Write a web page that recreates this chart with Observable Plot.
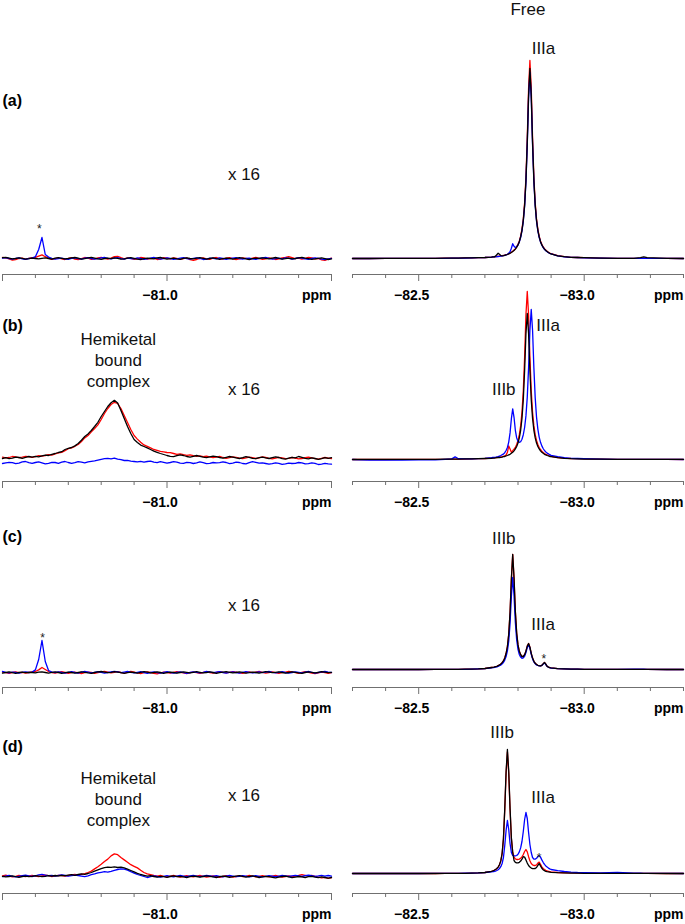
<!DOCTYPE html>
<html><head><meta charset="utf-8">
<script src="https://cdn.jsdelivr.net/npm/d3@7"></script>
<script src="https://cdn.jsdelivr.net/npm/@observablehq/plot@0.6"></script>
<style>
body{margin:0;background:#fff;}
#chart{position:relative;width:685px;height:924px;background:#fff;overflow:hidden;}
#chart svg{position:absolute;overflow:visible;}
</style></head><body><div id="chart"></div>
<script>
// ---------- x grids (ppm) ----------
const ppmL = [
-80.750,-80.755,-80.760,-80.765,-80.770,-80.775,-80.780,-80.785,-80.790,-80.795,
-80.800,-80.805,-80.810,-80.815,-80.820,-80.825,-80.830,-80.835,-80.840,-80.845,
-80.850,-80.855,-80.860,-80.865,-80.870,-80.875,-80.880,-80.885,-80.890,-80.895,
-80.900,-80.905,-80.910,-80.915,-80.920,-80.925,-80.930,-80.935,-80.940,-80.945,
-80.950,-80.955,-80.960,-80.965,-80.970,-80.975,-80.980,-80.985,-80.990,-80.995,
-81.000,-81.005,-81.010,-81.015,-81.020,-81.025,-81.030,-81.035,-81.040,-81.045,
-81.050,-81.055,-81.060,-81.065,-81.070,-81.075,-81.080,-81.085,-81.090,-81.095,
-81.100,-81.105,-81.110,-81.115,-81.120,-81.125,-81.130,-81.135,-81.140,-81.145,
-81.150,-81.155,-81.160,-81.165,-81.170,-81.175,-81.180,-81.185,-81.190,-81.195,
-81.200,-81.205,-81.210,-81.215,-81.220,-81.225,-81.230,-81.235,-81.240,-81.245,
-81.250];
const ppmR = [
-82.30,-82.35,-82.40,-82.45,-82.50,-82.55,-82.58,-82.60,-82.61,-82.62,-82.64,-82.66,-82.68,-82.70,
-82.720,-82.724,-82.728,-82.732,-82.736,-82.740,-82.744,-82.748,-82.752,-82.756,
-82.760,-82.764,-82.768,-82.772,-82.776,-82.780,-82.784,-82.788,-82.792,-82.796,
-82.800,-82.804,-82.808,-82.812,-82.816,-82.820,-82.824,-82.828,-82.832,-82.836,
-82.840,-82.844,-82.848,-82.852,-82.856,-82.860,-82.864,-82.868,-82.872,-82.876,
-82.880,-82.884,-82.888,-82.892,-82.896,-82.900,
-82.92,-82.94,-82.96,-82.98,-83.00,-83.05,-83.10,-83.15,-83.17,-83.18,-83.19,-83.25,-83.30];

// ---------- ticks ----------
const minorTicksL = [-80.80,-80.85,-80.90,-80.95,-81.05,-81.10,-81.15,-81.20];
const majorTicksL = [-80.75,-81.0,-81.25];
const labelTicksL = [-81.0];
const minorTicksR = [-82.3,-82.4,-82.6,-82.7,-82.8,-82.9,-83.1,-83.2,-83.3];
const majorTicksR = [-82.5,-83.0];
const labelTicksR = [-82.5,-83.0];

// ---------- left panels (x 16), row a ----------
const redAL = [
0.5,0.3,-0.2,-0.8,-0.6,0.0,0.2,-0.3,0.1,0.4,
0.6,1.2,1.8,0.9,0.2,-0.4,-0.1,0.3,-0.2,-0.5,
0.1,0.4,-0.3,-0.6,0.0,0.5,0.2,-0.4,-0.2,0.3,
0.6,0.1,-0.3,0.2,0.9,1.1,0.4,-0.2,0.3,0.1,
-0.4,-0.2,0.5,0.3,-0.3,-0.1,0.2,-0.5,-0.3,0.4,
0.2,-0.2,0.3,0.1,-0.4,0.0,0.3,-0.6,-0.9,-0.5,
0.1,0.3,-0.2,-0.4,0.2,0.5,0.0,-0.3,0.2,0.4,
-0.1,-0.5,-0.2,0.3,0.1,-0.3,0.2,0.6,0.1,-0.4,
-0.2,0.3,0.0,-0.5,-0.2,0.3,0.5,0.9,0.4,-0.1,
0.2,-0.3,0.1,0.6,0.3,-0.2,0.0,-0.7,-0.9,-0.3,
0.2];
const blueAL = [
0.2,0.4,0.0,-0.3,0.1,0.3,-0.2,-0.4,0.0,0.2,
0.9,4.5,10.5,2.0,0.7,0.1,-0.3,-0.1,0.2,-0.2,
-0.4,0.1,0.3,-0.1,-0.3,0.2,0.4,0.0,-0.3,-0.1,
0.3,0.5,0.1,-0.2,0.2,0.4,-0.1,-0.3,0.2,0.0,
-0.2,0.3,0.1,-0.4,-0.2,0.2,0.5,0.1,-0.3,-0.1,
0.3,0.0,-0.4,-0.2,0.2,0.4,-0.1,-0.3,0.1,0.3,
0.0,-0.5,-0.3,0.2,0.1,-0.2,0.3,0.0,-0.4,-0.1,
0.2,0.4,-0.1,-0.3,0.1,0.2,-0.2,-0.4,0.1,0.3,
0.5,0.1,-0.3,-0.1,0.2,-0.2,0.3,0.1,-0.3,0.0,
0.4,0.2,-0.2,-0.4,0.0,0.3,0.1,-0.3,-0.5,-0.2,
0.1];
const blackAL = [
0.4,0.6,0.2,-0.2,0.0,0.3,0.1,-0.3,-0.1,0.2,
0.0,-0.2,0.1,0.3,0.0,-0.3,0.2,0.4,0.1,-0.2,
0.0,0.3,0.5,0.2,-0.3,-0.1,0.3,0.6,0.2,-0.2,
-0.4,0.0,0.2,-0.1,0.3,0.1,-0.3,-0.2,0.2,0.4,
0.1,-0.3,-0.5,-0.1,0.2,0.0,-0.2,0.3,0.5,0.1,
-0.3,-0.1,0.2,-0.2,-0.4,0.1,0.3,0.0,-0.2,0.2,
0.4,0.1,-0.3,0.0,0.3,-0.1,-0.4,-0.1,0.2,0.0,
-0.3,0.1,0.4,0.2,-0.2,-0.5,-0.1,0.2,0.0,0.3,
0.1,-0.2,0.2,0.5,0.1,-0.3,-0.1,0.2,-0.2,0.0,
0.3,0.6,0.2,-0.1,-0.4,-0.2,0.1,0.3,-0.1,-0.5,
-0.2];

// ---------- left panels, row b (hemiketal bound complex) ----------
const redBL = [
1.2,0.8,1.0,1.5,1.3,0.9,1.2,1.6,1.4,1.1,
1.4,1.9,1.7,2.0,2.4,2.2,2.8,3.3,3.6,4.4,
5.4,5.8,6.6,7.5,9.0,10.8,12.0,13.8,15.5,17.3,
20.0,23.0,25.5,27.5,28.6,28.0,25.5,22.0,18.5,15.0,
12.0,10.2,8.6,7.3,6.6,5.8,5.0,4.6,4.1,3.8,
3.5,3.4,3.0,2.6,2.8,2.4,2.1,2.3,1.9,1.6,
1.8,1.4,1.7,1.3,0.9,1.2,1.6,1.0,0.6,0.9,
1.3,1.1,0.7,0.4,0.8,1.2,0.9,0.5,0.8,1.3,
1.0,0.6,0.3,0.7,1.1,0.8,0.4,0.6,1.0,0.7,
0.3,0.5,0.9,1.2,0.8,0.4,0.2,0.6,1.0,0.7,
0.4];
const blueBL = [
-2.0,-1.7,-1.4,-1.6,-2.1,-1.8,-1.2,-1.0,-1.6,-1.9,
-1.5,-1.2,-1.7,-2.2,-1.9,-1.4,-1.5,-1.9,-1.3,-1.0,
-1.5,-1.9,-1.6,-1.1,-1.3,-1.7,-1.2,-0.9,-0.7,-0.3,
0.1,0.4,0.6,0.3,0.7,0.2,-0.1,-0.5,-0.4,-0.8,
-1.0,-1.2,-0.9,-1.3,-1.0,-0.8,-1.3,-1.6,-1.1,-1.4,
-1.8,-1.5,-1.1,-1.3,-1.8,-1.9,-1.4,-1.6,-2.0,-1.7,
-1.2,-1.6,-2.1,-1.9,-1.5,-1.7,-1.6,-1.2,-1.5,-2.1,
-1.8,-1.3,-1.5,-2.0,-2.2,-1.6,-1.1,-1.4,-1.8,-1.7,
-2.0,-2.3,-2.1,-1.7,-1.9,-2.4,-2.2,-1.8,-2.0,-1.9,
-1.5,-1.7,-2.2,-2.1,-1.7,-1.9,-2.5,-2.3,-1.9,-2.2,
-2.3];
const blackBL = [
0.5,0.9,0.4,0.7,1.2,1.0,0.6,1.1,1.5,1.2,
1.6,1.3,1.8,2.2,2.0,2.6,3.0,3.5,3.9,5.0,
5.6,6.0,6.8,8.0,9.6,11.5,12.8,14.5,16.5,18.6,
21.5,24.0,26.5,28.4,29.6,28.2,24.5,20.5,16.5,13.0,
10.0,8.5,7.2,6.5,5.8,5.0,4.2,3.6,3.0,2.5,
2.0,1.6,1.4,1.9,2.3,2.0,1.5,1.2,1.6,2.0,
1.6,1.2,0.9,1.3,1.7,1.4,1.0,0.7,1.1,1.5,
1.2,0.8,0.5,0.9,1.4,1.1,0.6,0.4,0.9,1.2,
0.8,0.5,0.9,1.3,1.0,0.4,0.2,0.7,1.1,0.8,
1.5,1.1,0.6,0.3,0.8,0.5,0.1,0.4,0.9,0.6,
0.9];

// ---------- left panels, row c ----------
const redCL = [
-1.3,-1.6,-1.9,-1.5,-1.2,-1.6,-1.4,-1.8,-1.5,-1.2,
-1.0,-0.2,1.0,0.0,-1.0,-1.5,-1.8,-1.4,-1.1,-1.5,
-1.9,-1.6,-1.3,-1.7,-2.0,-1.6,-1.3,-1.5,-1.9,-1.6,
-1.2,-0.9,-1.3,-1.7,-1.4,-1.1,-1.5,-1.8,-1.4,-1.0,
-1.3,-1.7,-2.0,-1.6,-1.2,-1.5,-1.9,-2.2,-1.7,-1.3,
-1.5,-1.8,-1.4,-1.1,-1.4,-1.7,-2.0,-1.6,-1.3,-1.6,
-1.9,-1.5,-1.2,-1.5,-1.8,-1.5,-1.1,-1.4,-1.7,-1.4,
-1.1,-1.3,-1.7,-1.9,-1.5,-1.2,-1.6,-1.3,-1.0,-1.4,
-1.8,-1.5,-1.2,-1.6,-1.9,-1.6,-1.3,-0.9,-1.2,-1.6,
-1.9,-1.5,-1.1,-1.4,-1.8,-2.1,-1.7,-1.3,-1.6,-1.9,
-1.6];
const blueCL = [
-1.0,-1.4,-1.7,-1.3,-1.5,-1.8,-1.4,-1.2,-1.5,-1.3,
-0.2,5.0,14.5,4.0,-0.5,-1.3,-1.6,-1.2,-1.5,-1.8,
-1.4,-1.1,-1.5,-1.8,-1.3,-1.0,-1.3,-1.7,-1.4,-1.1,
-1.4,-1.8,-1.5,-1.2,-0.9,-1.2,-1.6,-1.3,-1.0,-1.4,
-1.7,-1.4,-1.1,-1.5,-1.9,-1.5,-1.2,-1.6,-1.8,-1.4,
-1.1,-1.5,-1.8,-1.5,-1.2,-1.6,-1.9,-1.5,-1.2,-1.4,
-1.7,-1.4,-1.0,-1.3,-1.6,-1.3,-1.1,-1.5,-1.8,-1.4,
-1.2,-1.5,-1.8,-1.4,-1.1,-1.4,-1.7,-1.5,-1.2,-1.6,
-1.3,-1.0,-1.4,-1.7,-1.4,-1.1,-1.5,-1.8,-1.5,-1.2,
-1.4,-1.7,-1.3,-1.0,-1.4,-1.8,-1.5,-1.2,-1.0,-1.3,
-1.5];
const blackCL = [
-1.8,-1.5,-1.2,-1.6,-1.9,-1.5,-1.3,-1.6,-1.4,-1.5,
-1.7,-1.3,-1.2,-1.5,-1.8,-1.4,-1.2,-1.5,-1.9,-1.6,
-1.3,-1.5,-1.8,-1.5,-1.2,-1.4,-1.7,-1.9,-1.5,-1.2,
-1.0,-1.3,-1.6,-1.4,-1.1,-1.3,-1.6,-1.9,-1.6,-1.3,
-1.5,-1.8,-1.4,-1.1,-1.3,-1.7,-1.5,-1.2,-1.5,-1.9,
-1.6,-1.3,-1.5,-1.8,-1.5,-1.2,-1.4,-1.7,-1.4,-1.1,
-1.4,-1.7,-1.5,-1.2,-1.5,-1.9,-1.6,-1.3,-1.1,-1.4,
-1.7,-1.5,-1.2,-1.4,-1.8,-1.6,-1.3,-1.5,-1.8,-1.4,
-1.1,-1.3,-1.6,-1.4,-1.2,-1.5,-1.8,-1.5,-1.2,-1.4,
-1.7,-1.9,-1.5,-1.2,-1.4,-1.7,-1.4,-1.1,-1.3,-1.6,
-1.4];

// ---------- left panels, row d (hemiketal bound complex) ----------
const redDL = [
-1.2,-0.8,-1.3,-1.7,-1.4,-1.0,-1.3,-1.6,-1.2,-0.9,
-1.3,-1.6,-1.2,-0.8,-1.1,-1.5,-1.2,-0.9,-1.0,-1.3,
-1.0,-0.7,-0.5,-0.8,-0.4,-0.1,0.5,1.2,2.3,3.4,
4.6,6.0,7.2,8.8,9.8,9.4,8.0,6.8,5.6,4.4,
3.6,2.8,1.6,0.5,-0.2,-0.6,-1.0,-1.3,-1.0,-1.4,
-1.7,-1.3,-1.0,-1.4,-1.8,-1.5,-1.1,-1.4,-1.7,-1.3,
-1.0,-1.4,-1.8,-1.5,-1.2,-1.5,-1.9,-1.5,-1.1,-1.4,
-1.8,-1.5,-1.2,-1.6,-1.4,-1.0,-1.3,-1.7,-1.4,-1.1,
-1.4,-1.7,-1.3,-1.0,-1.4,-1.8,-1.5,-1.2,-1.6,-1.3,
-1.0,-0.6,-0.9,-1.3,-1.0,-1.4,-1.8,-2.2,-1.9,-2.4,
-2.1];
const blueDL = [
-1.6,-1.3,-1.0,-1.4,-1.7,-1.4,-1.1,-0.8,-1.2,-1.5,
-1.2,-0.7,-0.4,-0.8,-1.1,-0.9,-1.3,-1.0,-0.7,-1.0,
-1.3,-1.1,-0.8,-1.0,-1.3,-1.6,-1.2,-0.6,-0.2,0.3,
0.6,0.9,0.7,1.1,1.6,2.0,2.3,2.2,1.7,0.9,
0.2,-0.5,-1.0,-1.5,-2.0,-1.6,-1.2,-1.5,-1.8,-1.4,
-1.1,-1.4,-1.7,-1.3,-1.0,-1.3,-1.6,-1.2,-0.9,-1.3,
-1.6,-1.3,-1.0,-1.2,-1.5,-1.1,-1.4,-1.7,-1.3,-1.0,
-1.3,-1.6,-1.4,-1.1,-1.3,-1.7,-1.4,-1.1,-1.4,-1.7,
-1.4,-1.1,-1.3,-1.6,-1.3,-1.0,-1.2,-1.5,-1.2,-0.9,
-1.2,-1.5,-1.1,-0.8,-1.1,-1.4,-1.2,-0.9,-1.3,-1.0,
-1.3];
const blackDL = [
-1.4,-1.7,-1.5,-1.2,-1.6,-1.9,-1.5,-1.3,-1.6,-1.4,
-1.1,-1.3,-1.6,-1.4,-1.1,-1.3,-1.0,-1.2,-0.9,-1.1,
-0.8,-0.6,-0.9,-0.5,-0.2,-0.4,0.0,0.5,1.2,1.8,
2.4,2.9,3.2,3.1,3.3,3.0,3.2,2.8,2.2,1.5,
0.8,0.1,-0.5,-0.9,-1.3,-1.1,-1.5,-1.8,-1.4,-1.6,
-1.9,-1.5,-1.2,-1.6,-1.4,-1.7,-2.0,-1.6,-1.3,-1.5,
-1.8,-1.5,-1.2,-1.4,-1.7,-2.0,-1.6,-1.3,-1.5,-1.9,
-1.6,-1.3,-1.1,-1.4,-1.8,-1.5,-1.2,-1.6,-2.0,-1.7,
-1.4,-1.6,-1.9,-2.2,-1.8,-1.5,-1.3,-1.7,-2.1,-1.8,
-1.5,-1.7,-2.0,-1.6,-1.4,-1.8,-2.1,-1.7,-2.0,-2.3,
-2.0];

// ---------- right panels (free ligand, IIIa / IIIb) ----------
const redAR = [
0,0,0.1,0.1,0.1,0.1,0.2,0.2,0.2,0.2,0.3,0.3,0.4,0.5,
0.7,0.8,0.8,0.9,1.0,1.1,1.2,1.3,1.4,1.5,1.7,1.9,2.1,2.4,2.7,3.1,3.6,4.2,4.9,5.8,
7.1,8.8,11.2,14.7,19.8,27.8,40.6,60.4,85.3,99,85.3,60.4,40.6,27.8,19.8,14.7,11.2,8.8,7.1,5.8,
4.9,4.2,3.6,3.1,2.7,2.4,
1.4,0.9,0.6,0.5,0.4,0.2,0.1,0.1,0.1,0.1,0.1,0.1,0];
const blueAR = [
0,0,0.1,0.1,0.1,0.1,0.1,0.2,0.2,0.2,0.2,0.3,0.4,0.5,
0.7,0.8,0.8,0.8,0.9,1.0,1.1,1.2,1.3,1.4,1.6,1.8,2.0,2.7,3.4,5.1,7.4,6.1,5.5,5.9,
6.7,8.3,10.5,13.8,18.6,26.1,38.2,56.8,80.2,93,80.2,56.8,38.2,26.1,18.6,13.8,10.5,8.3,6.7,5.5,
4.6,3.9,3.4,2.9,2.5,2.3,
1.3,0.8,0.6,0.5,0.3,0.2,0.1,0.1,0.1,0.2,0.1,0.1,0];
const blackAR = [
0,0,0.1,0.1,0.1,0.1,0.2,0.2,0.2,0.2,0.3,0.3,0.4,0.5,
0.7,0.8,0.8,1.2,1.9,2.6,2.1,1.5,1.3,1.4,1.6,1.8,2.0,2.3,2.6,3.0,3.5,4.0,4.7,5.6,
6.8,8.4,10.8,14.1,19.0,26.7,39.0,58.0,81.9,95,81.9,58.0,39.0,26.7,19.0,14.1,10.8,8.4,6.8,5.6,
4.7,4.0,3.5,3.0,2.6,2.3,
1.3,0.9,0.6,0.5,0.4,0.2,0.1,0.1,0.4,0.8,0.4,0.1,0];

const redBR = [
0,0,0,0.1,0.1,0.1,0.1,0.2,0.2,0.2,0.2,0.3,0.4,0.5,
0.7,0.8,0.8,0.9,1.0,1.1,1.2,1.3,1.4,1.6,1.8,2.2,3.6,6.8,5.2,3.6,4.4,5.2,6.0,7.5,
9.5,12.4,16.8,23.6,34.4,51.2,72.4,84,72.4,51.2,34.4,23.6,16.8,12.4,9.5,7.5,6.0,5.0,4.1,3.5,
3.0,2.6,2.3,2.0,1.8,1.6,
1.0,0.7,0.5,0.4,0.3,0.2,0.1,0.1,0.1,0.1,0.1,0.1,0];
const blueBR = [
0,-0.3,-0.2,-0.3,-0.2,-0.2,0.1,0.3,1.3,0.4,0.3,0.3,0.4,0.6,
0.9,1.0,1.1,1.1,1.3,1.4,1.7,2.0,2.4,2.7,3.4,4.5,6.0,8.7,13.3,20.4,25.3,21.1,14.6,10.8,
9.0,8.6,8.9,10.1,12.4,16.0,21.8,31.2,46.0,64.7,75.0,64.6,45.8,30.8,21.2,15.2,11.2,8.6,6.8,5.5,
4.5,3.8,3.2,2.8,2.4,2.1,
1.4,0.9,0.6,0.5,0.4,0.2,0.1,0.1,0.1,0.1,0.1,0.1,0];
const blackBR = [
0,0.1,0.1,0.1,0.1,0.1,0.2,0.2,0.2,0.2,0.3,0.3,0.4,0.5,
0.6,0.7,0.7,0.8,0.9,1.0,1.0,1.1,1.2,1.4,1.5,1.8,2.0,2.3,2.6,3.1,3.6,4.3,5.3,6.5,
8.2,10.8,14.6,20.5,29.9,44.5,62.9,73,62.9,44.5,29.9,20.5,14.6,10.8,8.2,6.5,5.3,4.3,3.6,3.1,
2.6,2.3,2.0,1.8,1.5,1.4,
0.9,0.6,0.4,0.3,0.2,0.2,0.1,0.1,0.1,0.1,0.1,0.1,0.1];

const redCR = [
0,0,0,0,0,0.1,0.1,0.1,0.1,0.1,0.2,0.2,0.3,0.5,
1.0,1.1,1.2,1.4,1.6,1.9,2.3,2.8,3.4,4.3,5.8,8.0,11.5,17.6,28.5,45.4,57.5,45.8,29.0,18.2,
12.3,9.1,7.4,6.5,6.5,7.4,9.2,11.7,13.0,11.2,8.1,5.7,4.1,3.1,2.5,2.1,1.9,1.8,2.1,2.8,
3.5,2.7,1.6,1.2,0.9,0.8,
0.4,0.3,0.2,0.2,0.1,0.1,0.1,0.1,0.1,0.1,0.1,0,0];
const blueCR = [
0,0,0,0,0,0.1,0.1,0.1,0.1,0.1,0.1,0.2,0.3,0.4,
0.8,0.9,1.0,1.2,1.3,1.6,1.9,2.2,2.8,3.5,4.7,6.5,9.3,14.2,23.0,36.7,46.0,37.0,23.5,14.8,
10.1,7.5,6.2,5.6,5.8,6.6,8.5,11.0,12.2,10.6,7.6,5.3,3.8,2.9,2.3,2.0,1.8,1.8,2.0,2.7,
3.3,2.5,1.6,1.1,0.9,0.7,
0.4,0.3,0.2,0.2,0.1,0.1,0.1,0.2,0.2,0.2,0.1,0,0];
const blackCR = [
0,0,0,0,0,0.1,0.1,0.1,0.1,0.1,0.2,0.2,0.3,0.5,
1.0,1.1,1.2,1.4,1.6,1.9,2.3,2.8,3.4,4.3,5.8,8.0,11.5,17.6,28.5,45.4,57.5,45.8,29.0,18.2,
12.3,9.1,7.4,6.5,6.5,7.4,9.2,11.7,13.0,11.2,8.1,5.7,4.1,3.1,2.5,2.1,1.9,1.8,2.1,2.8,
3.5,2.7,1.6,1.2,0.9,0.8,
0.4,0.3,0.2,0.2,0.1,0.1,0.1,0.1,0.1,0.1,0.1,0,0];

const redDR = [
0,0,0,0,0,0,0.1,0.1,0.1,0.1,0.1,0.2,0.3,0.5,
1.1,1.3,1.6,1.9,2.4,3.2,4.4,6.3,9.9,17.1,31.8,49.9,60.8,50.0,32.0,17.5,10.8,8.2,7.3,7.0,
7.0,7.2,7.6,8.3,9.5,11.0,12.0,10.8,8.4,6.4,5.0,4.3,4.0,4.0,4.3,5.2,5.7,4.6,3.3,2.5,
2.0,1.6,1.3,1.1,0.9,0.8,
0.5,0.3,0.3,0.2,0.2,0.1,0.1,0.1,0.1,0.1,0.1,0,0];
const blueDR = [
0,0,0,0,0,0.1,0.1,0.1,0.1,0.1,0.2,0.2,0.3,0.5,
0.8,0.9,1.0,1.2,1.5,1.9,2.5,3.4,5.0,8.0,14.0,21.5,26.5,22.0,15.0,10.5,9.0,8.8,8.8,9.0,
9.6,10.8,12.8,16.0,21.0,27.0,30.5,27.5,20.5,14.5,10.5,8.0,7.2,7.2,7.6,8.6,9.0,8.2,6.8,5.6,
4.6,3.8,3.2,2.7,2.3,2.0,
1.4,1.0,0.7,0.5,0.4,0.3,0.5,0.2,0.2,0.1,0.1,0.1,0];
const blackDR = [
0,0,0,0,0,0,0.1,0.1,0.1,0.1,0.1,0.2,0.3,0.5,
1.1,1.3,1.6,2.0,2.5,3.2,4.4,6.3,10.0,17.5,32.3,51.0,62,51.1,32.6,17.9,10.5,6.5,5.6,5.3,
5.3,5.6,6.2,7.2,8.4,8.2,6.8,5.2,4.0,3.2,2.7,2.4,2.4,2.5,3.0,4.1,5.0,3.8,2.6,1.9,
1.4,1.1,0.9,0.8,0.7,0.6,
0.4,0.3,0.2,0.2,0.1,0.1,0.1,0.1,0.1,0.1,0.1,0,0];

// ---------- annotations (anchored in data units) ----------
const notes = [
 {panel:"aL", kind:"row",   text:"(a)",  ppm:-80.75,  v:79},
 {panel:"aL", kind:"label", text:"x 16", ppm:-81.117, v:42.5},
 {panel:"aL", kind:"star",  text:"*",    ppm:-80.806, v:16},
 {panel:"aR", kind:"label", text:"Free", ppm:-82.830, v:125},
 {panel:"aR", kind:"label", text:"IIIa", ppm:-82.877, v:105.7},
 {panel:"bL", kind:"row",   text:"(b)",  ppm:-80.75,  v:67},
 {panel:"bL", kind:"label", text:"Hemiketal\nbound\ncomplex", ppm:-80.926, v:50},
 {panel:"bL", kind:"label", text:"x 16", ppm:-81.117, v:35.7},
 {panel:"bR", kind:"label", text:"IIIa", ppm:-82.891, v:67.5},
 {panel:"bR", kind:"label", text:"IIIb", ppm:-82.757, v:35.7},
 {panel:"cL", kind:"row",   text:"(c)",  ppm:-80.75,  v:66.2},
 {panel:"cL", kind:"label", text:"x 16", ppm:-81.117, v:32.4},
 {panel:"cL", kind:"star",  text:"*",    ppm:-80.811, v:17.4},
 {panel:"cR", kind:"label", text:"IIIb", ppm:-82.757, v:66.2},
 {panel:"cR", kind:"label", text:"IIIa", ppm:-82.876, v:23.2},
 {panel:"cR", kind:"star",  text:"*",    ppm:-82.878, v:6.7},
 {panel:"dL", kind:"row",   text:"(d)",  ppm:-80.75,  v:63.2},
 {panel:"dL", kind:"label", text:"Hemiketal\nbound\ncomplex", ppm:-80.926, v:37.7},
 {panel:"dL", kind:"label", text:"x 16", ppm:-81.117, v:39.4},
 {panel:"dR", kind:"label", text:"IIIb", ppm:-82.752, v:71.2},
 {panel:"dR", kind:"label", text:"IIIa", ppm:-82.876, v:38.6},
 {panel:"dR", kind:"star",  text:"*",    ppm:-82.864, v:9.4},
];

const RED = "#ff0000", BLUE = "#0000ff", BLACK = "#000000";
const spectra = {
  aL: [[RED, redAL], [BLUE, blueAL], [BLACK, blackAL]],
  aR: [[RED, redAR], [BLUE, blueAR], [BLACK, blackAR]],
  bL: [[RED, redBL], [BLUE, blueBL], [BLACK, blackBL]],
  bR: [[RED, redBR], [BLUE, blueBR], [BLACK, blackBR]],
  cL: [[RED, redCL], [BLUE, blueCL], [BLACK, blackCL]],
  cR: [[RED, redCR], [BLUE, blueCR], [BLACK, blackCR]],
  dL: [[RED, redDL], [BLUE, blueDL], [BLACK, blackDL]],
  dR: [[RED, redDR], [BLUE, blueDR], [BLACK, blackDR]],
};

// ---------- layout ----------
const FONT = "'Liberation Sans', Arial, Helvetica, sans-serif";
const AXIS = "#707070";
const rows = [
  {id: "a", axisY: 274, dmin: -8},
  {id: "b", axisY: 481, dmin: -11},
  {id: "c", axisY: 687, dmin: -9},
  {id: "d", axisY: 893, dmin: -10},
];
const sides = {
  L: {left: 0,   width: 340, ml: 2,  mr: 9, grid: ppmL, domain: [-80.75, -81.25], minor: minorTicksL, major: majorTicksL, labels: labelTicksL},
  R: {left: 340, width: 345, ml: 12, mr: 2, grid: ppmR, domain: [-82.3, -83.3],   minor: minorTicksR, major: majorTicksR, labels: labelTicksR},
};
const PLOT_H = 174, MB = 32;
const fmt = d3.format(".1f");
const container = document.getElementById("chart");

for (const row of rows) {
  for (const sideKey of ["L", "R"]) {
    const s = sides[sideKey];
    const key = row.id + sideKey;
    const marks = spectra[key].map(([color, vals]) =>
      Plot.line(s.grid.map((p, i) => ({ppm: p, v: vals[i]})),
        {x: "ppm", y: "v", stroke: color, strokeWidth: 1.3, strokeLinejoin: "round"}));
    const pn = notes.filter(n => n.panel === key);
    marks.push(
      Plot.ruleY([row.dmin], {stroke: AXIS, strokeWidth: 1}),
      Plot.axisX({ticks: s.minor, tickSize: 4, tickFormat: () => "", stroke: AXIS, label: null}),
      Plot.axisX({ticks: s.major, tickSize: 7, tickFormat: () => "", stroke: AXIS, label: null}),
      Plot.text(s.labels, {x: d => d, text: d => fmt(d), frameAnchor: "bottom", dy: 21, dx: -7,
        fontSize: 14, fontWeight: "bold", lineAnchor: "middle", fill: "#000"}),
      Plot.text(["ppm"], {frameAnchor: "bottom-right", dy: 21, textAnchor: "end",
        fontSize: 14, fontWeight: "bold", lineAnchor: "middle", fill: "#000"}),
      Plot.text(pn.filter(n => n.kind === "row"), {x: "ppm", y: "v", text: "text", textAnchor: "start",
        fontSize: 16, fontWeight: "bold", lineAnchor: "middle", fill: "#000"}),
      Plot.text(pn.filter(n => n.kind === "label"), {x: "ppm", y: "v", text: "text", textAnchor: "middle",
        fontSize: 17, lineHeight: 1.24, lineAnchor: "middle", fill: "#111"}),
      Plot.text(pn.filter(n => n.kind === "star"), {x: "ppm", y: "v", text: "text", textAnchor: "middle",
        fontSize: 12, dy: 3, lineAnchor: "middle", fill: "#222"})
    );
    const svg = Plot.plot({
      width: s.width, height: PLOT_H + MB,
      marginTop: 0, marginBottom: MB, marginLeft: s.ml, marginRight: s.mr,
      x: {domain: s.domain, label: null},
      y: {domain: [row.dmin, row.dmin + PLOT_H / 2], axis: null, label: null},
      style: {background: "transparent", overflow: "visible", fontFamily: FONT},
      marks
    });
    svg.style.position = "absolute";
    svg.style.left = s.left + "px";
    svg.style.top = (row.axisY - PLOT_H) + "px";
    svg.style.maxWidth = "none";
    container.appendChild(svg);
  }
}
</script></body></html>
